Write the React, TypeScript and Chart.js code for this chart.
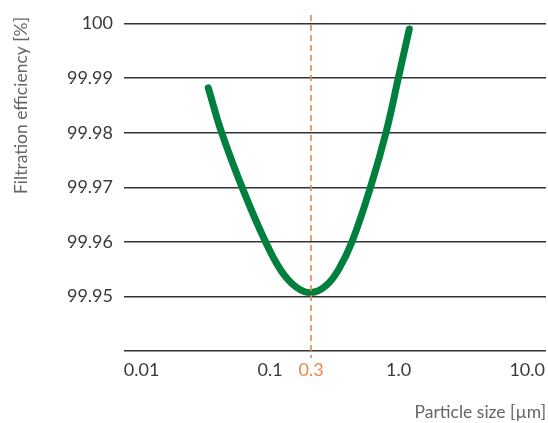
import React, { useEffect, useRef } from "react";
import { Chart, registerables } from "chart.js";

Chart.register(...registerables);

// Particle size [µm]
const particleSize = [0.03305, 0.042, 0.06119, 0.09204, 0.1215, 0.159, 0.208, 0.2721, 0.3434, 0.4335, 0.5982, 0.7968, 0.9933, 1.2099];
// Filtration efficiency [%]
const efficiency = [99.9882, 99.98, 99.9697, 99.96, 99.95475, 99.95173, 99.9507, 99.95197, 99.95506, 99.96, 99.9697, 99.98, 99.99, 99.999];

const xTickValues = [0.01, 0.1, 0.208, 1, 10];
const xTickLabels = ["0.01", "0.1", "0.3", "1.0", "10.0"];
const markerValue = 0.208; // most penetrating particle size marker (labelled 0.3)

const yTickValues = [99.94, 99.95, 99.96, 99.97, 99.98, 99.99, 100];
const yTickLabels = ["", "99.95", "99.96", "99.97", "99.98", "99.99", "100"];

const GREEN = "#00803c";
const ORANGE = "#e8884a";
const FONT = "Lato";

const markerPlugin = {
  id: "markerLine",
  afterDatasetsDraw(chart: any) {
    const { ctx, chartArea, scales } = chart;
    const x = scales.x.getPixelForValue(markerValue);
    ctx.save();
    ctx.strokeStyle = ORANGE;
    ctx.lineWidth = 1.6;
    ctx.setLineDash([6, 4]);
    ctx.beginPath();
    ctx.moveTo(x, chartArea.top - 2);
    ctx.lineTo(x, chartArea.bottom + 7);
    ctx.stroke();
    ctx.restore();
  },
};

const zeroPadding = (scale: any) => {
  scale.paddingLeft = 0;
  scale.paddingRight = 0;
  scale.paddingTop = 0;
  scale.paddingBottom = 0;
};

export default function App() {
  const ref = useRef<HTMLCanvasElement>(null);

  useEffect(() => {
    if (!ref.current) return;
    const chart = new Chart(ref.current, {
      type: "line",
      data: {
        datasets: [
          {
            data: particleSize.map((x, i) => ({ x, y: efficiency[i] })),
            borderColor: GREEN,
            borderWidth: 7,
            borderCapStyle: "round",
            borderJoinStyle: "round",
            pointRadius: 0,
            tension: 0.4,
            fill: false,
          },
        ],
      },
      options: {
        animation: false,
        responsive: true,
        maintainAspectRatio: false,
        layout: { padding: { left: 0, right: 2, top: 17, bottom: 0 } },
        plugins: { legend: { display: false }, tooltip: { enabled: false } },
        scales: {
          x: {
            type: "logarithmic",
            min: 0.0073,
            max: 14,
            grid: { display: false, drawTicks: false },
            border: { display: false },
            afterBuildTicks: (scale: any) => {
              scale.ticks = xTickValues.map((v) => ({ value: v }));
            },
            afterFit: (scale: any) => {
              scale.height = 72;
              zeroPadding(scale);
            },
            ticks: {
              autoSkip: false,
              maxRotation: 0,
              padding: 8,
              font: { family: FONT, size: 18 },
              color: (c: any) => (c.index === 2 ? ORANGE : "#3a3a3a"),
              callback: (_v: any, i: number) => xTickLabels[i],
            },
            title: {
              display: true,
              text: "Particle size [µm]",
              align: "end",
              color: "#666",
              font: { family: FONT, size: 17.5 },
              padding: { top: 0, bottom: 0 },
            },
          },
          y: {
            type: "linear",
            min: 99.94,
            max: 100.0012,
            grid: { color: "#333", lineWidth: 1.5, drawTicks: false },
            border: { display: false },
            afterBuildTicks: (scale: any) => {
              scale.ticks = yTickValues.map((v) => ({ value: v }));
            },
            afterFit: (scale: any) => {
              scale.width = 124;
              zeroPadding(scale);
            },
            ticks: {
              padding: 11,
              font: { family: FONT, size: 18 },
              color: "#3a3a3a",
              callback: (_v: any, i: number) => yTickLabels[i],
            },
            title: {
              display: true,
              text: "Filtration efficiency [%]",
              align: "end",
              color: "#666",
              font: { family: FONT, size: 17.5 },
              padding: { top: 11, bottom: 0 },
            },
          },
        },
      },
      plugins: [markerPlugin],
    } as any);
    return () => chart.destroy();
  }, []);

  return (
    <div style={{ position: "fixed", left: 0, top: 0, width: 548, height: 423, background: "#fff" }}>
      <canvas ref={ref} />
    </div>
  );
}
